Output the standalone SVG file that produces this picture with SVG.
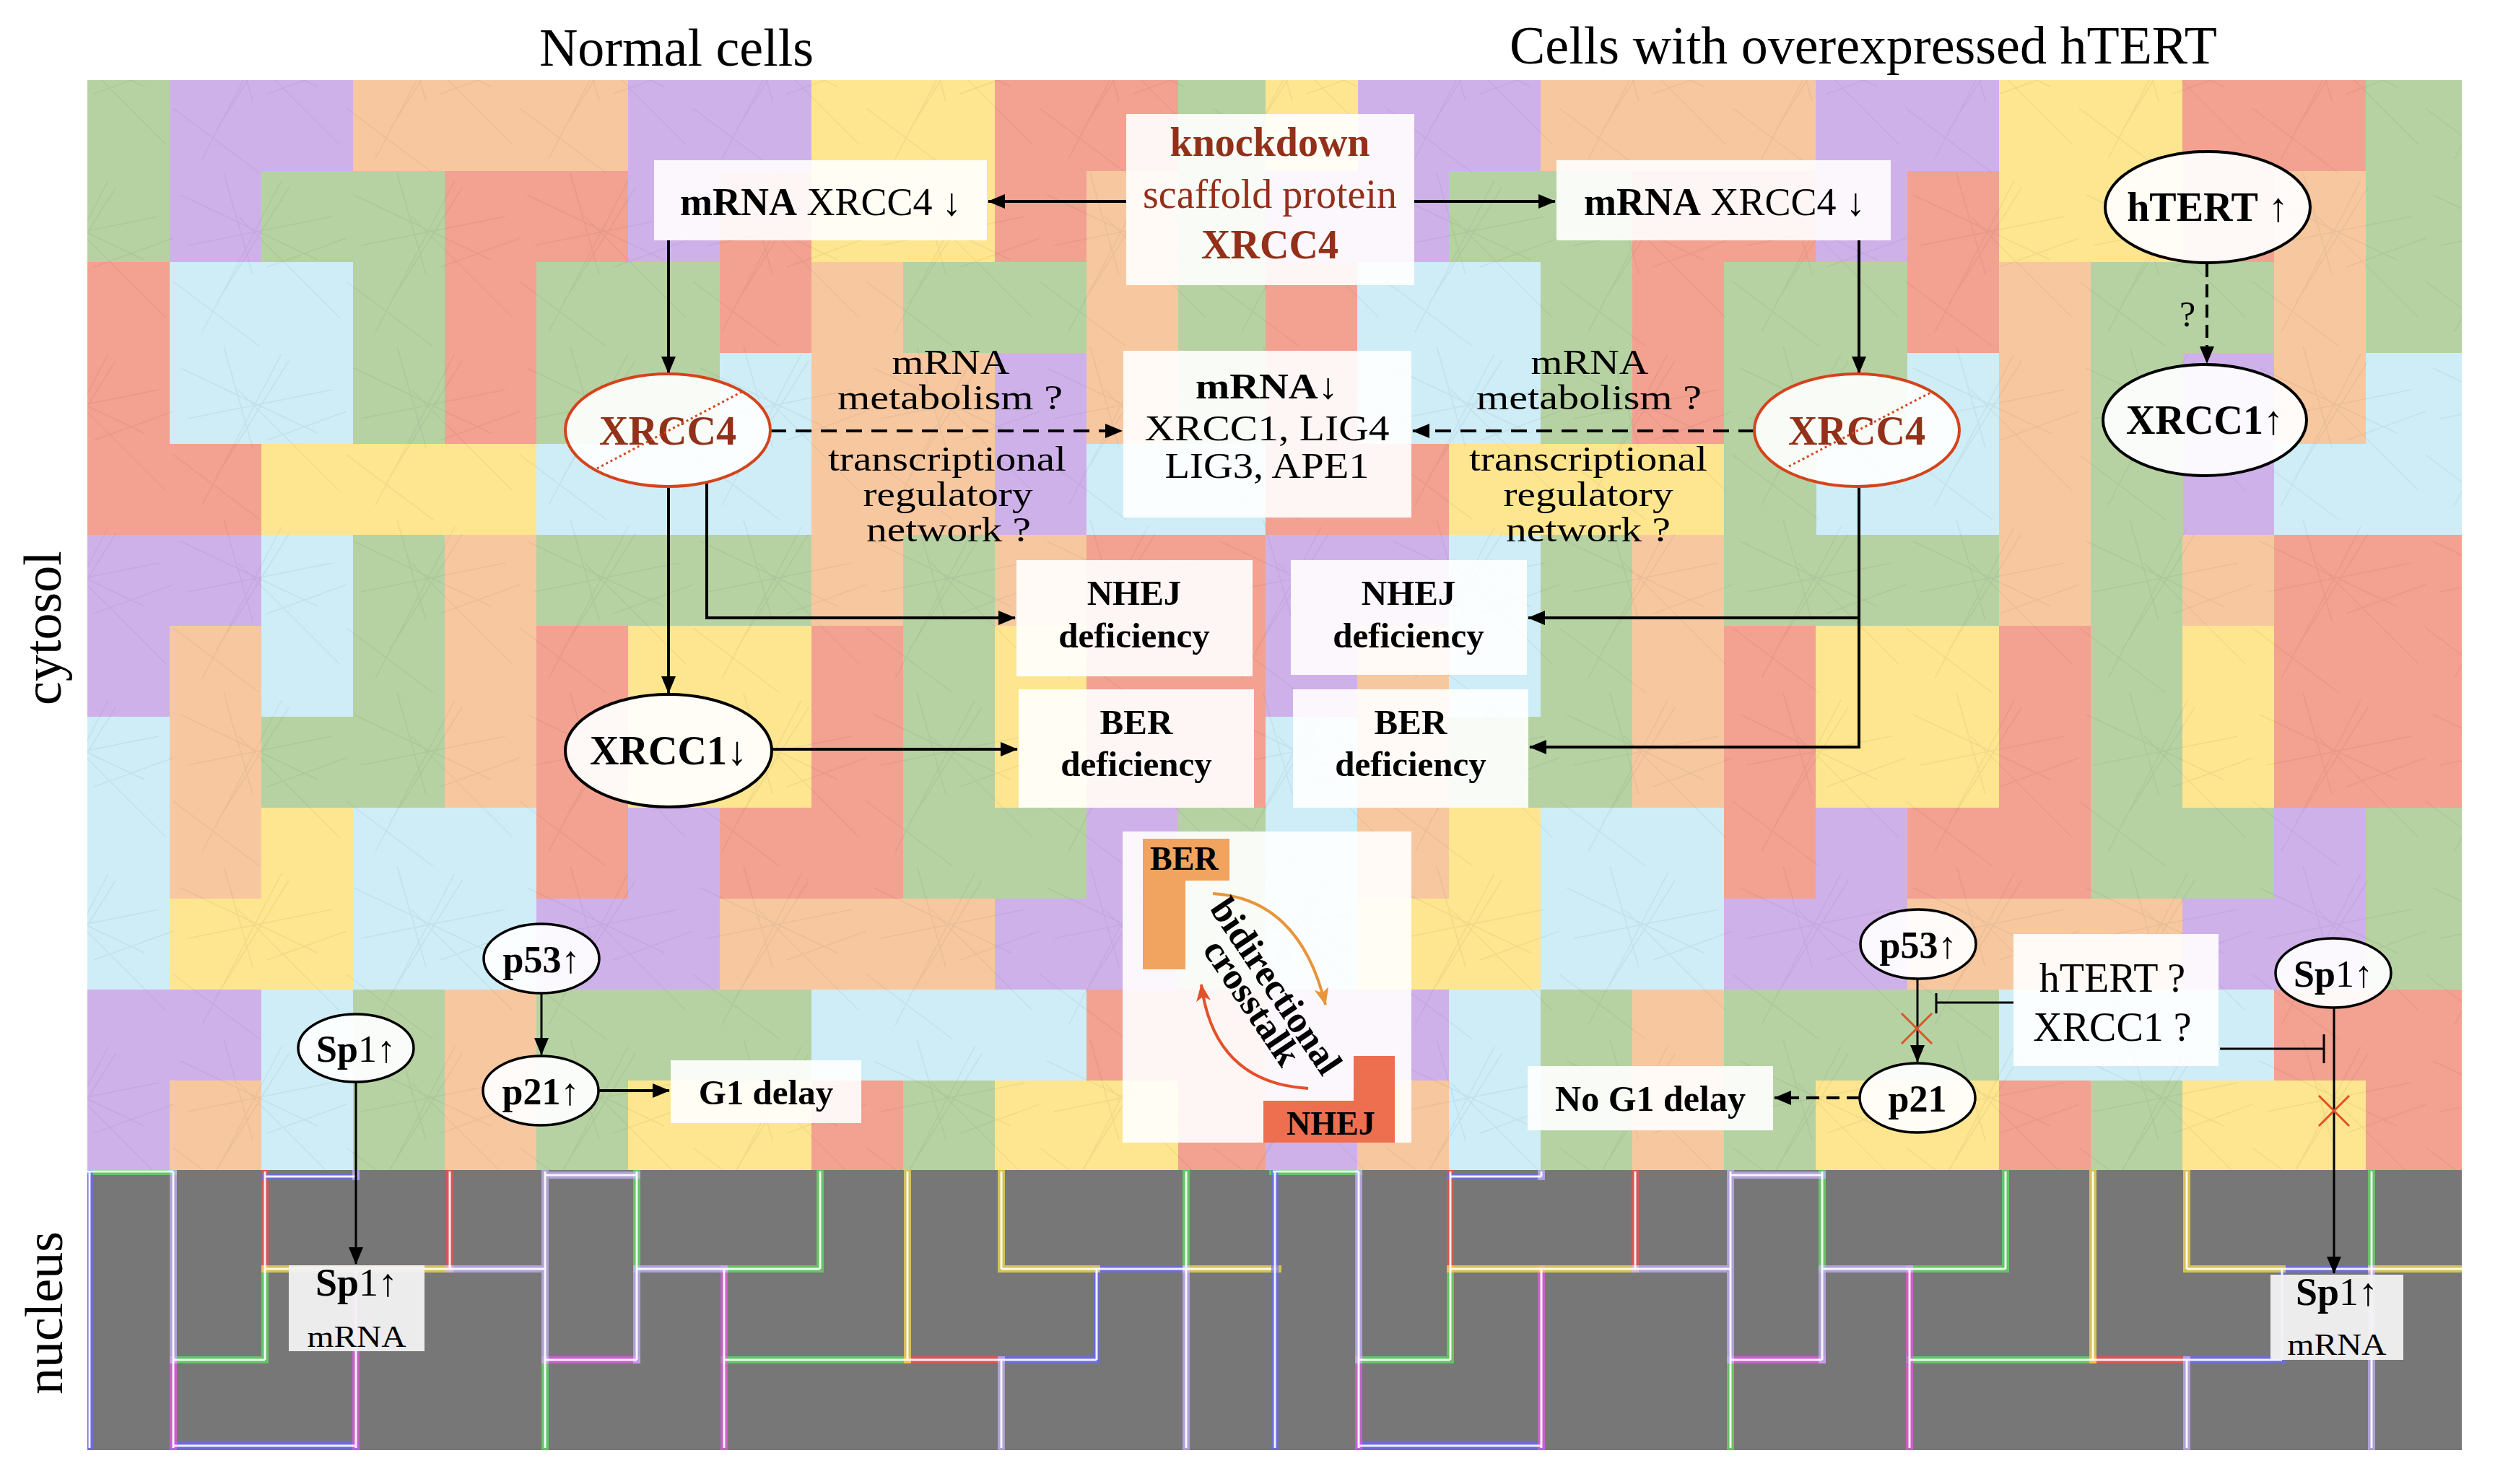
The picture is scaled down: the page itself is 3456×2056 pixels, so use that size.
<svg xmlns="http://www.w3.org/2000/svg" xmlns:xlink="http://www.w3.org/1999/xlink" width="3456" height="2056" viewBox="0 0 3456 2056">
<style>
.t{font-family:"Liberation Serif","Times New Roman",serif;fill:#000}
.b{font-weight:bold}
.dr{fill:#93301a}
.box{fill:#fff;fill-opacity:0.9}
.ln{stroke:#000;stroke-width:4;fill:none}
.thin{stroke:#000;stroke-width:3;fill:none}
.dash{stroke-dasharray:22 13}
.node{fill:#fff;fill-opacity:0.92;stroke:#000;stroke-width:4}
.rnode{fill:#fff;fill-opacity:0.9;stroke:#d4441c;stroke-width:4}
.G{fill:#b6d2a3}.P{fill:#cfb1ea}.O{fill:#f7c8a0}.Y{fill:#fde68f}.R{fill:#f3a191}.B{fill:#ceedf7}
.neon{fill:none;stroke-width:10;stroke-opacity:0.7;stroke-linecap:square}
.core{fill:none;stroke:#fff;stroke-width:3;stroke-opacity:0.9}
.xm{stroke:#e0522a;stroke-width:3;fill:none}
.mech{font-size:48px}
</style>
<defs>
<marker id="ah" markerUnits="userSpaceOnUse" markerWidth="24" markerHeight="20" refX="23" refY="10" orient="auto"><path d="M0,0 L24,10 L0,20 Z" fill="#000"/></marker>
<marker id="aho" markerUnits="userSpaceOnUse" markerWidth="24" markerHeight="20" refX="23" refY="10" orient="auto"><path d="M0,0 L24,10 L0,20 L6,10 Z" fill="#e8943a"/></marker>
<marker id="ahr" markerUnits="userSpaceOnUse" markerWidth="24" markerHeight="20" refX="23" refY="10" orient="auto"><path d="M0,0 L24,10 L0,20 L6,10 Z" fill="#e4502a"/></marker>
<clipPath id="cyto"><rect x="121" y="111" width="3289" height="1512"/></clipPath>
<clipPath id="nuc"><rect x="121" y="1621" width="3289" height="388"/></clipPath>
<pattern id="tex" width="240" height="240" patternUnits="userSpaceOnUse">
<path d="M10,30 L200,120 M40,220 L150,10 M90,60 L230,200 M0,150 L120,240 M160,20 L60,180 M20,100 L220,60 M130,130 L240,90 M70,0 L110,140" stroke="#000" stroke-opacity="0.05" stroke-width="1.5" fill="none"/>
</pattern>
<g id="tilesL">
<rect class="G" x="108" y="111" width="128" height="252"/><rect class="R" x="108" y="363" width="128" height="378"/><rect class="P" x="108" y="741" width="128" height="252"/><rect class="B" x="108" y="993" width="128" height="378"/><rect class="P" x="108" y="1371" width="128" height="252"/>
<rect class="P" x="235" y="111" width="128" height="252"/><rect class="B" x="235" y="363" width="128" height="252"/><rect class="R" x="235" y="615" width="128" height="126"/><rect class="P" x="235" y="741" width="128" height="126"/><rect class="O" x="235" y="867" width="128" height="378"/><rect class="Y" x="235" y="1245" width="128" height="126"/><rect class="P" x="235" y="1371" width="128" height="126"/><rect class="O" x="235" y="1497" width="128" height="126"/>
<rect class="P" x="362" y="111" width="128" height="126"/><rect class="G" x="362" y="237" width="128" height="126"/><rect class="B" x="362" y="363" width="128" height="252"/><rect class="Y" x="362" y="615" width="128" height="126"/><rect class="B" x="362" y="741" width="128" height="252"/><rect class="G" x="362" y="993" width="128" height="126"/><rect class="Y" x="362" y="1119" width="128" height="252"/><rect class="B" x="362" y="1371" width="128" height="252"/>
<rect class="O" x="489" y="111" width="128" height="126"/><rect class="G" x="489" y="237" width="128" height="378"/><rect class="Y" x="489" y="615" width="128" height="126"/><rect class="G" x="489" y="741" width="128" height="378"/><rect class="B" x="489" y="1119" width="128" height="252"/><rect class="G" x="489" y="1371" width="128" height="252"/>
<rect class="O" x="616" y="111" width="128" height="126"/><rect class="R" x="616" y="237" width="128" height="378"/><rect class="Y" x="616" y="615" width="128" height="126"/><rect class="O" x="616" y="741" width="128" height="378"/><rect class="B" x="616" y="1119" width="128" height="252"/><rect class="O" x="616" y="1371" width="128" height="252"/>
<rect class="O" x="743" y="111" width="128" height="126"/><rect class="R" x="743" y="237" width="128" height="126"/><rect class="G" x="743" y="363" width="128" height="252"/><rect class="B" x="743" y="615" width="128" height="126"/><rect class="G" x="743" y="741" width="128" height="126"/><rect class="R" x="743" y="867" width="128" height="378"/><rect class="P" x="743" y="1245" width="128" height="126"/><rect class="G" x="743" y="1371" width="128" height="252"/>
<rect class="P" x="870" y="111" width="128" height="252"/><rect class="G" x="870" y="363" width="128" height="252"/><rect class="B" x="870" y="615" width="128" height="126"/><rect class="G" x="870" y="741" width="128" height="126"/><rect class="Y" x="870" y="867" width="128" height="252"/><rect class="P" x="870" y="1119" width="128" height="252"/><rect class="G" x="870" y="1371" width="128" height="126"/><rect class="Y" x="870" y="1497" width="128" height="126"/>
<rect class="P" x="997" y="111" width="128" height="126"/><rect class="R" x="997" y="237" width="128" height="252"/><rect class="B" x="997" y="489" width="128" height="252"/><rect class="G" x="997" y="741" width="128" height="126"/><rect class="Y" x="997" y="867" width="128" height="252"/><rect class="R" x="997" y="1119" width="128" height="126"/><rect class="O" x="997" y="1245" width="128" height="126"/><rect class="G" x="997" y="1371" width="128" height="126"/><rect class="Y" x="997" y="1497" width="128" height="126"/>
<rect class="Y" x="1124" y="111" width="128" height="252"/><rect class="O" x="1124" y="363" width="128" height="504"/><rect class="R" x="1124" y="867" width="128" height="378"/><rect class="O" x="1124" y="1245" width="128" height="126"/><rect class="B" x="1124" y="1371" width="128" height="126"/><rect class="R" x="1124" y="1497" width="128" height="126"/>
<rect class="Y" x="1251" y="111" width="128" height="252"/><rect class="G" x="1251" y="363" width="128" height="126"/><rect class="O" x="1251" y="489" width="128" height="252"/><rect class="G" x="1251" y="741" width="128" height="504"/><rect class="O" x="1251" y="1245" width="128" height="126"/><rect class="B" x="1251" y="1371" width="128" height="126"/><rect class="G" x="1251" y="1497" width="128" height="126"/>
<rect class="R" x="1378" y="111" width="128" height="252"/><rect class="G" x="1378" y="363" width="128" height="126"/><rect class="P" x="1378" y="489" width="128" height="252"/><rect class="O" x="1378" y="741" width="128" height="126"/><rect class="Y" x="1378" y="867" width="128" height="252"/><rect class="G" x="1378" y="1119" width="128" height="126"/><rect class="P" x="1378" y="1245" width="128" height="126"/><rect class="B" x="1378" y="1371" width="128" height="126"/><rect class="Y" x="1378" y="1497" width="128" height="126"/>
<rect class="R" x="1505" y="111" width="128" height="126"/><rect class="O" x="1505" y="237" width="128" height="378"/><rect class="B" x="1505" y="615" width="128" height="126"/><rect class="R" x="1505" y="741" width="128" height="378"/><rect class="P" x="1505" y="1119" width="128" height="252"/><rect class="R" x="1505" y="1371" width="128" height="126"/><rect class="Y" x="1505" y="1497" width="128" height="126"/>
<rect class="G" x="1632" y="111" width="128" height="504"/><rect class="B" x="1632" y="615" width="128" height="126"/><rect class="R" x="1632" y="741" width="128" height="378"/><rect class="G" x="1632" y="1119" width="128" height="252"/><rect class="R" x="1632" y="1371" width="128" height="252"/>
</g>
<g id="nucL">
<path class="neon" stroke="#5ee65e" d="M121,1623 H240 M240,1884 H367 M367,1758 V1884 M755,1884 V2006 M882,1623 V1758 M1003,1758 H1136 M1136,1623 V1758 M1003,1884 H1257 M1643,1623 V1758"/>
<path class="neon" stroke="#ff4a4a" d="M367,1623 V1758 M623,1623 V1758"/>
<path class="neon" stroke="#ff4a4a" stroke-width="18" d="M1257,1884 H1387"/>
<path class="neon" stroke="#6a6aff" d="M367,1630 H493 M240,2003 H493 M1519,1758 V1884 M1519,1758 H1643 M1387,1884 H1519 M124,1623 V2006"/>
<path class="neon" stroke="#e85ae8" d="M240,1884 V2006 M493,1758 V2006 M755,1884 H882 M1003,1758 V2006"/>
<path class="neon" stroke="#ffe14a" d="M367,1758 H623 M1257,1623 V1884 M1387,1623 V1758 M1387,1758 H1519 M1643,1758 H1770"/>
<path class="neon" stroke="#c8b4ff" d="M240,1623 V1884 M623,1758 H755 M755,1623 V1884 M755,1628 H882 M882,1758 V1884 M882,1758 H1003 M1387,1884 V2006 M1643,1758 V2006 M493,1623 V1630"/>
<path class="core" d="M121,1623 H240 M240,1884 H367 M367,1758 V1884 M755,1884 V2006 M882,1623 V1758 M1003,1758 H1136 M1136,1623 V1758 M1003,1884 H1257 M1643,1623 V1758 M367,1623 V1758 M623,1623 V1758 M1257,1884 H1387 M367,1630 H493 M240,2003 H493 M1519,1758 V1884 M1519,1758 H1643 M1387,1884 H1519 M124,1623 V2006 M240,1884 V2006 M493,1758 V2006 M755,1884 H882 M1003,1758 V2006 M367,1758 H623 M1257,1623 V1884 M1387,1623 V1758 M1387,1758 H1519 M1643,1758 H1770 M240,1623 V1884 M623,1758 H755 M755,1623 V1884 M755,1628 H882 M882,1758 V1884 M882,1758 H1003 M1387,1884 V2006 M1643,1758 V2006 M493,1623 V1630"/>
</g>
</defs>
<rect x="0" y="0" width="3456" height="2056" fill="#fff"/>

<g id="background">
<g clip-path="url(#cyto)" shape-rendering="crispEdges">
<use xlink:href="#tilesL"/>
<use xlink:href="#tilesL" transform="translate(1645 0)"/>
<rect class="Y" x="1753" y="111" width="128" height="126"/><rect class="P" x="1753" y="237" width="128" height="126"/>
<rect class="G" x="2388" y="615" width="128" height="126"/>
<rect class="G" x="2896" y="489" width="128" height="252"/>
<rect class="G" x="3277" y="111" width="133" height="378"/><rect class="B" x="3277" y="489" width="133" height="252"/><rect class="R" x="3277" y="741" width="133" height="378"/><rect class="G" x="3277" y="1119" width="133" height="252"/><rect class="R" x="3277" y="1371" width="133" height="252"/>
<rect x="121" y="111" width="3289" height="1512" fill="url(#tex)"/>
</g>
<rect x="121" y="1621" width="3289" height="388" fill="#777"/>
<g clip-path="url(#nuc)">
<use xlink:href="#nucL"/>
<use xlink:href="#nucL" transform="translate(1642 0)"/>
</g>
</g>

<g id="labels">
<text class="t" x="937" y="91" font-size="74" text-anchor="middle">Normal cells</text>
<text class="t" x="2581" y="88" font-size="74" text-anchor="middle">Cells with overexpressed hTERT</text>
<text class="t" font-size="74" text-anchor="middle" transform="translate(84 870) rotate(-90)">cytosol</text>
<text class="t" font-size="74" text-anchor="middle" transform="translate(86 1819) rotate(-90)">nucleus</text>
</g>

<g id="connectors">
<path class="ln" d="M1560,279 H1369" marker-end="url(#ah)"/>
<path class="ln" d="M1959,279 H2154" marker-end="url(#ah)"/>
<path class="ln" d="M926,333 V517" marker-end="url(#ah)"/>
<path class="ln" d="M2575,333 V517" marker-end="url(#ah)"/>
<path class="ln dash" d="M1067,597 H1554" marker-end="url(#ah)"/>
<path class="ln dash" d="M2430,597 H1957" marker-end="url(#ah)"/>
<path class="ln" d="M926,674 V960" marker-end="url(#ah)"/>
<path class="ln" d="M979,668 V856 H1406" marker-end="url(#ah)"/>
<path class="ln" d="M1069,1038 H1409" marker-end="url(#ah)"/>
<path class="ln" d="M2575,674 V1035 H2119" marker-end="url(#ah)"/>
<path class="ln" d="M2575,856 H2117" marker-end="url(#ah)"/>
<path class="ln dash" style="stroke-dasharray:18 10" d="M3057,366 V503" marker-end="url(#ah)"/>
<path class="ln" style="stroke-width:3" d="M750,1376 V1461" marker-end="url(#ah)"/>
<path class="ln" d="M829,1511 H927" marker-end="url(#ah)"/>
<path class="ln" style="stroke-width:3" d="M493,1499 V1751" marker-end="url(#ah)"/>
<path class="ln" style="stroke-width:3" d="M2656,1356 V1471" marker-end="url(#ah)"/>
<path class="ln dash" style="stroke-dasharray:18 10" d="M2576,1521 H2458" marker-end="url(#ah)"/>
<path class="thin" d="M2789,1389 H2682 M2682,1376 V1404"/>
<path class="thin" d="M3075,1453 H3219 M3219,1433 V1473"/>
<path class="ln" style="stroke-width:3" d="M3233,1396 V1764" marker-end="url(#ah)"/>
<path class="xm" d="M2634,1404 L2676,1446 M2676,1404 L2634,1446"/>
<path class="xm" d="M3212,1518 L3254,1560 M3254,1518 L3212,1560"/>
</g>

<g id="mrna-left">
<rect class="box" x="906" y="222" width="461" height="111"/>
<text class="t" x="1137" y="298" font-size="54" text-anchor="middle"><tspan class="b">mRNA</tspan> XRCC4 ↓</text>
</g>
<g id="knockdown">
<rect class="box" x="1560" y="158" width="399" height="237"/>
<text class="t dr b" x="1759" y="216" font-size="56" text-anchor="middle">knockdown</text>
<text class="t dr" x="1759" y="288" font-size="56" text-anchor="middle">scaffold protein</text>
<text class="t dr b" x="1759" y="358" font-size="56" text-anchor="middle">XRCC4</text>
</g>
<g id="mrna-right">
<rect class="box" x="2156" y="222" width="463" height="111"/>
<text class="t" x="2389" y="298" font-size="54" text-anchor="middle"><tspan class="b">mRNA</tspan> XRCC4 ↓</text>
</g>
<g id="xrcc4-left">
<ellipse class="rnode" cx="925" cy="596" rx="142" ry="78"/>
<text class="t dr b" x="925" y="616" font-size="56" text-anchor="middle">XRCC4</text>
<path d="M827,649 L1031,541" stroke="#d4441c" stroke-width="3" stroke-dasharray="3 4" fill="none"/>
</g>
<g id="xrcc4-right">
<ellipse class="rnode" cx="2572" cy="596" rx="142" ry="78"/>
<text class="t dr b" x="2572" y="616" font-size="56" text-anchor="middle">XRCC4</text>
<path d="M2478,646 L2676,543" stroke="#d4441c" stroke-width="3" stroke-dasharray="3 4" fill="none"/>
</g>
<g id="mrna-center">
<rect class="box" x="1556" y="486" width="399" height="231"/>
<text class="t" x="1755" y="552" font-size="50" text-anchor="middle" textLength="198" lengthAdjust="spacingAndGlyphs"><tspan class="b">mRNA</tspan>↓</text>
<text class="t" x="1755" y="610" font-size="50" text-anchor="middle" textLength="339" lengthAdjust="spacingAndGlyphs">XRCC1, LIG4</text>
<text class="t" x="1755" y="662" font-size="50" text-anchor="middle" textLength="283" lengthAdjust="spacingAndGlyphs">LIG3, APE1</text>
</g>
<g id="mech-left">
<text class="t mech" x="1317" y="518" text-anchor="middle" textLength="163" lengthAdjust="spacingAndGlyphs">mRNA</text>
<text class="t mech" x="1316" y="567" text-anchor="middle" textLength="312" lengthAdjust="spacingAndGlyphs">metabolism ?</text>
<text class="t mech" x="1312" y="652" text-anchor="middle" textLength="330" lengthAdjust="spacingAndGlyphs">transcriptional</text>
<text class="t mech" x="1313" y="701" text-anchor="middle" textLength="235" lengthAdjust="spacingAndGlyphs">regulatory</text>
<text class="t mech" x="1314" y="750" text-anchor="middle" textLength="228" lengthAdjust="spacingAndGlyphs">network ?</text>
</g>
<g id="mech-right">
<text class="t mech" x="2202" y="518" text-anchor="middle" textLength="163" lengthAdjust="spacingAndGlyphs">mRNA</text>
<text class="t mech" x="2201" y="567" text-anchor="middle" textLength="312" lengthAdjust="spacingAndGlyphs">metabolism ?</text>
<text class="t mech" x="2200" y="652" text-anchor="middle" textLength="330" lengthAdjust="spacingAndGlyphs">transcriptional</text>
<text class="t mech" x="2200" y="701" text-anchor="middle" textLength="235" lengthAdjust="spacingAndGlyphs">regulatory</text>
<text class="t mech" x="2200" y="750" text-anchor="middle" textLength="228" lengthAdjust="spacingAndGlyphs">network ?</text>
</g>
<g id="nhej-left">
<rect class="box" x="1408" y="776" width="327" height="161"/>
<text class="t b" x="1571" y="838" font-size="49" text-anchor="middle">NHEJ</text>
<text class="t b" x="1571" y="897" font-size="49" text-anchor="middle">deficiency</text>
</g>
<g id="nhej-right">
<rect class="box" x="1788" y="776" width="327" height="159"/>
<text class="t b" x="1951" y="838" font-size="49" text-anchor="middle">NHEJ</text>
<text class="t b" x="1951" y="897" font-size="49" text-anchor="middle">deficiency</text>
</g>
<g id="ber-left">
<rect class="box" x="1411" y="955" width="326" height="164"/>
<text class="t b" x="1574" y="1017" font-size="49" text-anchor="middle">BER</text>
<text class="t b" x="1574" y="1075" font-size="49" text-anchor="middle">deficiency</text>
</g>
<g id="ber-right">
<rect class="box" x="1791" y="955" width="326" height="164"/>
<text class="t b" x="1954" y="1017" font-size="49" text-anchor="middle">BER</text>
<text class="t b" x="1954" y="1075" font-size="49" text-anchor="middle">deficiency</text>
</g>
<g id="xrcc1-left">
<ellipse class="node" cx="926" cy="1040" rx="143" ry="78"/>
<text class="t" x="926" y="1059" font-size="56" text-anchor="middle"><tspan class="b">XRCC1</tspan>↓</text>
</g>
<g id="htert">
<ellipse class="node" cx="3058" cy="287" rx="142" ry="77"/>
<text class="t" x="3058" y="306" font-size="56" text-anchor="middle"><tspan class="b">hTERT</tspan> ↑</text>
<text class="t" x="3030" y="452" font-size="50" text-anchor="middle">?</text>
</g>
<g id="xrcc1-right">
<ellipse class="node" cx="3054" cy="582" rx="141" ry="77"/>
<text class="t" x="3054" y="601" font-size="56" text-anchor="middle"><tspan class="b">XRCC1</tspan>↑</text>
</g>
<g id="crosstalk">
<rect class="box" x="1555" y="1152" width="400" height="431"/>
<path d="M1583,1162 H1703 V1220 H1642 V1343 H1583 Z" fill="#f0a460"/>
<text class="t b" x="1593" y="1205" font-size="46">BER</text>
<path d="M1875,1463 H1932 V1583 H1750 V1525 H1875 Z" fill="#ee6e50"/>
<text class="t b" x="1782" y="1572" font-size="46">NHEJ</text>
<path d="M1680,1238 Q1800,1245 1836,1392" fill="none" stroke="#e8943a" stroke-width="4" marker-end="url(#aho)"/>
<path d="M1812,1508 Q1682,1500 1664,1364" fill="none" stroke="#e4502a" stroke-width="4" marker-end="url(#ahr)"/>
<g transform="translate(1765 1368) rotate(56)">
<text class="t b" x="0" y="14" font-size="52" text-anchor="middle">bidirectional</text>
<text class="t b" x="0" y="54" font-size="52" text-anchor="middle">crosstalk</text>
</g>
</g>
<g id="p53-left">
<ellipse class="node" style="stroke-width:3.5" cx="750" cy="1328" rx="80" ry="48"/>
<text class="t" x="750" y="1347" font-size="52" text-anchor="middle"><tspan class="b">p53</tspan>↑</text>
</g>
<g id="p21-left">
<ellipse class="node" style="stroke-width:3.5" cx="749" cy="1511" rx="80" ry="48"/>
<text class="t" x="749" y="1530" font-size="52" text-anchor="middle"><tspan class="b">p21</tspan>↑</text>
</g>
<g id="g1-delay">
<rect class="box" x="929" y="1469" width="264" height="87"/>
<text class="t b" x="1061" y="1530" font-size="49" text-anchor="middle">G1 delay</text>
</g>
<g id="sp1-left">
<ellipse class="node" style="stroke-width:3.5" cx="493" cy="1452" rx="80" ry="47"/>
<text class="t" x="493" y="1471" font-size="52" text-anchor="middle"><tspan class="b">Sp</tspan>1↑</text>
</g>
<g id="sp1-mrna-left">
<rect x="400" y="1753" width="188" height="119" fill="#f2f2f2" fill-opacity="0.95"/>
<text class="t" x="494" y="1795" font-size="54" text-anchor="middle"><tspan class="b">Sp</tspan>1↑</text>
<text class="t" x="494" y="1866" font-size="42" text-anchor="middle" textLength="137" lengthAdjust="spacingAndGlyphs">mRNA</text>
</g>
<g id="p53-right">
<ellipse class="node" style="stroke-width:3.5" cx="2657" cy="1308" rx="80" ry="48"/>
<text class="t" x="2657" y="1327" font-size="52" text-anchor="middle"><tspan class="b">p53</tspan>↑</text>
</g>
<g id="p21-right">
<ellipse class="node" style="stroke-width:3.5" cx="2656" cy="1521" rx="80" ry="48"/>
<text class="t b" x="2656" y="1540" font-size="52" text-anchor="middle">p21</text>
</g>
<g id="no-g1-delay">
<rect class="box" x="2116" y="1477" width="340" height="89"/>
<text class="t b" x="2286" y="1539" font-size="50" text-anchor="middle">No G1 delay</text>
</g>
<g id="htert-xrcc1-q">
<rect class="box" x="2789" y="1294" width="284" height="183"/>
<text class="t" x="2926" y="1374" font-size="56" text-anchor="middle">hTERT ?</text>
<text class="t" x="2926" y="1442" font-size="56" text-anchor="middle">XRCC1 ?</text>
</g>
<g id="sp1-right">
<ellipse class="node" style="stroke-width:3.5" cx="3232" cy="1348" rx="80" ry="48"/>
<text class="t" x="3232" y="1367" font-size="52" text-anchor="middle"><tspan class="b">Sp</tspan>1↑</text>
</g>
<g id="sp1-mrna-right">
<rect x="3145" y="1766" width="184" height="118" fill="#f2f2f2" fill-opacity="0.95"/>
<text class="t" x="3237" y="1808" font-size="54" text-anchor="middle"><tspan class="b">Sp</tspan>1↑</text>
<text class="t" x="3237" y="1877" font-size="42" text-anchor="middle" textLength="137" lengthAdjust="spacingAndGlyphs">mRNA</text>
</g>
</svg>
